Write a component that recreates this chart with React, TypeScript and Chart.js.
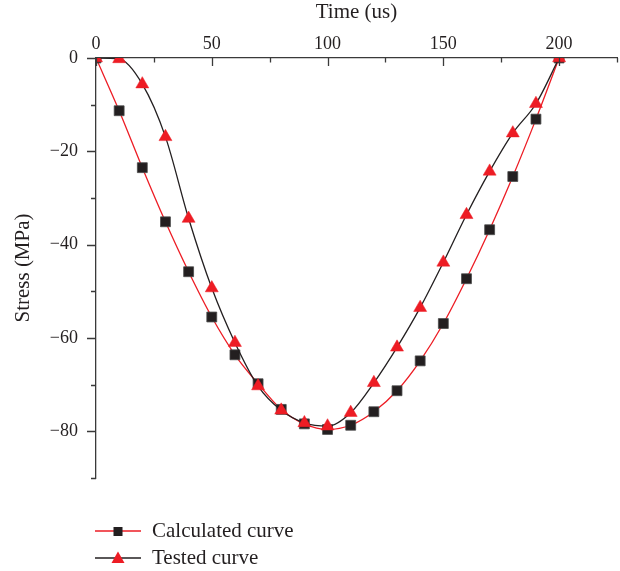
import React, { useEffect, useRef } from "react";
import { Chart, registerables } from "chart.js";

Chart.register(...registerables);

const timeUs = [0, 10, 20, 30, 40, 50, 60, 70, 80, 90, 100, 110, 120, 130, 140, 150, 160, 170, 180, 190, 200];
const calculatedStress = [0, -11.3, -23.5, -35.1, -45.8, -55.5, -63.6, -69.8, -75.3, -78.4, -79.6, -78.7, -75.8, -71.3, -64.9, -56.9, -47.3, -36.8, -25.4, -13.1, 0];
const testedStress = [0, -0.2, -5.6, -16.9, -34.4, -49.3, -61.0, -70.3, -75.5, -78.2, -78.9, -76.0, -69.6, -62.0, -53.5, -43.8, -33.6, -24.3, -16.1, -9.8, 0];

const xMajorTicks = [0, 50, 100, 150, 200];
const xMinorTicks = [25, 75, 125, 175, 225];
const yMajorTicks = [0, -20, -40, -60, -80];
const yMinorTicks = [-10, -30, -50, -70, -90];

const RED = "#ed1c24";
const BLACK = "#231f20";
const AXIS = "#3a3a3a";
const FONT = "'Liberation Serif', 'DejaVu Serif', serif";

const tickPlugin = {
  id: "customTicks",
  afterDraw(chart: any) {
    const { ctx, chartArea } = chart;
    const xs = chart.scales.x;
    const ys = chart.scales.y;
    ctx.save();
    ctx.strokeStyle = AXIS;
    ctx.lineWidth = 1.3;
    ctx.beginPath();
    const drawX = (v: number, len: number) => {
      const px = Math.round(xs.getPixelForValue(v)) + 0.5;
      ctx.moveTo(px, chartArea.top);
      ctx.lineTo(px, chartArea.top + len);
    };
    const drawY = (v: number, len: number) => {
      const py = Math.round(ys.getPixelForValue(v)) + 0.5;
      ctx.moveTo(chartArea.left, py);
      ctx.lineTo(chartArea.left - len, py);
    };
    xMajorTicks.forEach((v) => drawX(v, 8));
    xMinorTicks.forEach((v) => drawX(v, 4.5));
    yMajorTicks.forEach((v) => drawY(v, 9));
    yMinorTicks.forEach((v) => drawY(v, 5));
    ctx.stroke();
    ctx.restore();
  },
};

function LegendRow({ color, markerColor, marker, label }: any) {
  return (
    <div style={{ display: "flex", alignItems: "center", height: 27 }}>
      <svg width={46} height={16} style={{ display: "block" }}>
        <line x1={0} y1={8} x2={46} y2={8} stroke={color} strokeWidth={1.3} />
        {marker === "rect" ? (
          <rect x={18.5} y={4} width={9} height={9} fill={markerColor} />
        ) : (
          <polygon points="23,1.5 29.5,13 16.5,13" fill={markerColor} />
        )}
      </svg>
      <span style={{ marginLeft: 11, whiteSpace: "nowrap" }}>{label}</span>
    </div>
  );
}

export default function App() {
  const canvasRef = useRef<HTMLCanvasElement | null>(null);

  useEffect(() => {
    if (!canvasRef.current) return;
    const chart = new Chart(canvasRef.current, {
      type: "line",
      data: {
        labels: timeUs,
        datasets: [
          {
            label: "Calculated curve",
            data: timeUs.map((t, i) => ({ x: t, y: calculatedStress[i] })),
            borderColor: RED,
            borderWidth: 1.3,
            backgroundColor: BLACK,
            pointBackgroundColor: BLACK,
            pointBorderColor: "#4a4a4a",
            pointBorderWidth: 0.8,
            pointStyle: "rect",
            pointRadius: 7,
            cubicInterpolationMode: "monotone",
            order: 1,
          },
          {
            label: "Tested curve",
            data: timeUs.map((t, i) => ({ x: t, y: testedStress[i] })),
            borderColor: BLACK,
            borderWidth: 1.3,
            backgroundColor: RED,
            pointBackgroundColor: RED,
            pointBorderColor: RED,
            pointBorderWidth: 0.5,
            pointStyle: "triangle",
            pointRadius: 7.5,
            cubicInterpolationMode: "monotone",
            order: 0,
          },
        ],
      },
      options: {
        responsive: false,
        animation: false,
        layout: { autoPadding: false, padding: { left: 0, top: 0, right: 3, bottom: 93 } },
        plugins: {
          legend: { display: false },
          tooltip: { enabled: false },
        },
        scales: {
          x: {
            type: "linear",
            position: "top",
            min: 0,
            max: 225,
            afterFit: (s: any) => {
              s.height = 58;
              s.paddingRight = 0;
              s.paddingLeft = 0;
            },
            afterBuildTicks: (s: any) => {
              s.ticks = xMajorTicks.map((v) => ({ value: v }));
            },
            grid: { display: false, drawTicks: false },
            border: { display: true, color: AXIS, width: 1.3 },
            ticks: {
              padding: 3,
              color: BLACK,
              font: { family: FONT, size: 18 },
              maxRotation: 0,
            },
            title: {
              display: true,
              text: "Time (us)",
              color: BLACK,
              font: { family: FONT, size: 21 },
              padding: { top: 0, bottom: 0 },
            },
          },
          y: {
            type: "linear",
            min: -90,
            max: 0,
            afterFit: (s: any) => {
              s.width = 96;
            },
            afterBuildTicks: (s: any) => {
              s.ticks = yMajorTicks.map((v) => ({ value: v }));
            },
            grid: { display: false, drawTicks: false },
            border: { display: true, color: AXIS, width: 1.3 },
            ticks: {
              padding: 18,
              color: BLACK,
              font: { family: FONT, size: 18 },
              callback: (v: any) => (Number(v) < 0 ? "\u2212" + Math.abs(Number(v)) : String(v)),
            },
            title: {
              display: true,
              text: "Stress (MPa)",
              color: BLACK,
              font: { family: FONT, size: 21 },
              padding: { top: 11, bottom: 0 },
            },
          },
        },
      },
      plugins: [tickPlugin],
    } as any);
    return () => chart.destroy();
  }, []);

  return (
    <div style={{ position: "absolute", left: 0, top: 0, width: 620, height: 571, background: "#fff" }}>
      <canvas ref={canvasRef} width={620} height={571} style={{ display: "block", width: 620, height: 571 }} />
      <div
        style={{
          position: "absolute",
          left: 95,
          top: 517,
          fontFamily: FONT,
          fontSize: 21,
          color: BLACK,
        }}
      >
        <LegendRow color={RED} markerColor={BLACK} marker="rect" label="Calculated curve" />
        <LegendRow color={BLACK} markerColor={RED} marker="triangle" label="Tested curve" />
      </div>
    </div>
  );
}
